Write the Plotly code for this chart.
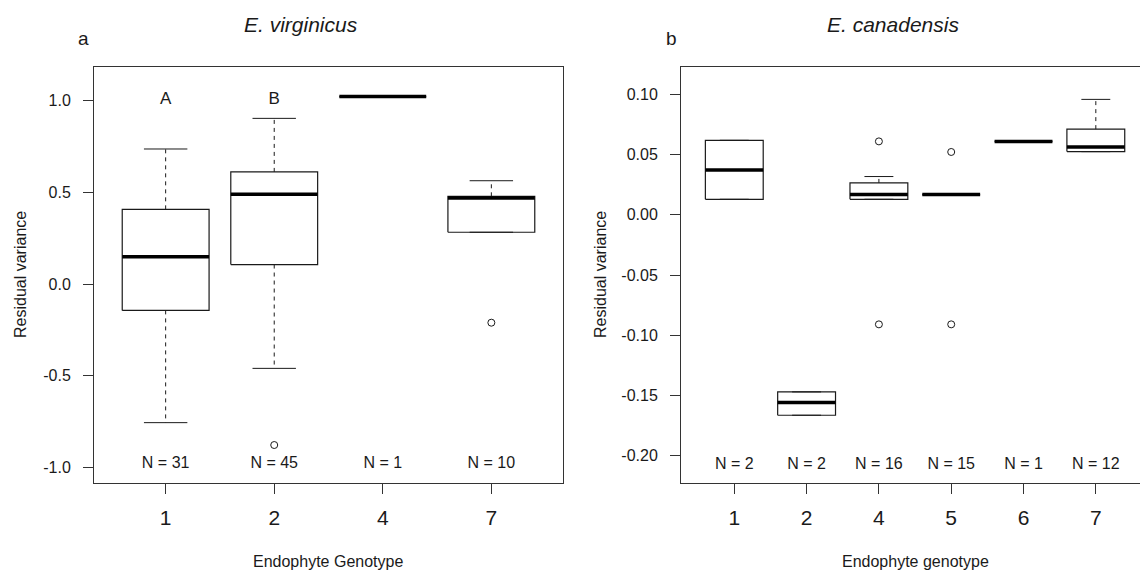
import plotly.graph_objects as go

# ---------------- data: panel a (E. virginicus) ----------------
a_genotypes = ["1", "2", "4", "7"]
a_n = [31, 45, 1, 10]
a_lower_whisker = [-0.755, -0.459, 1.023, 0.283]
a_q1 = [-0.143, 0.107, 1.023, 0.283]
a_median = [0.149, 0.490, 1.023, 0.470]
a_q3 = [0.408, 0.612, 1.023, 0.479]
a_upper_whisker = [0.737, 0.904, 1.023, 0.564]
a_outliers = [[], [-0.877], [], [-0.210]]
a_letters = ["A", "B", "", ""]

# ---------------- data: panel b (E. canadensis) ----------------
b_genotypes = ["1", "2", "4", "5", "6", "7"]
b_n = [2, 2, 16, 15, 1, 12]
b_lower_whisker = [0.0129, -0.1665, 0.0129, 0.0168, 0.0610, 0.0525]
b_q1 = [0.0129, -0.1665, 0.0129, 0.0168, 0.0610, 0.0525]
b_median = [0.0372, -0.1560, 0.0168, 0.0168, 0.0610, 0.0563]
b_q3 = [0.0619, -0.1471, 0.0265, 0.0168, 0.0610, 0.0712]
b_upper_whisker = [0.0619, -0.1471, 0.0318, 0.0168, 0.0610, 0.0959]
b_outliers = [[], [], [0.0610, -0.0910], [0.0522, -0.0910], [], []]

W, H = 1140, 572
FONT = "Liberation Sans, Arial, sans-serif"
INK = "#1a1a1a"
BOXW = 0.4   # half box width
CAPW = 0.2   # half staple width

fig = go.Figure()


def add_boxes(xref, yref, q1, med, q3, lw, uw, outs):
    pos = list(range(1, len(q1) + 1))
    bx, by, mx, my, wx, wy, cx, cy, ox, oy = [], [], [], [], [], [], [], [], [], []
    for p, a, m, b, lo, hi, ol in zip(pos, q1, med, q3, lw, uw, outs):
        bx += [p - BOXW, p + BOXW, p + BOXW, p - BOXW, p - BOXW, None]
        by += [a, a, b, b, a, None]
        mx += [p - BOXW, p + BOXW, None]
        my += [m, m, None]
        wx += [p, p, None, p, p, None]
        wy += [b, hi, None, a, lo, None]
        cx += [p - CAPW, p + CAPW, None, p - CAPW, p + CAPW, None]
        cy += [hi, hi, None, lo, lo, None]
        for o in ol:
            ox.append(p)
            oy.append(o)
    common = dict(xaxis=xref, yaxis=yref, showlegend=False, hoverinfo="skip")
    fig.add_trace(go.Scatter(x=wx, y=wy, mode="lines",
                             line=dict(color=INK, width=1, dash="4px,4px"), **common))
    fig.add_trace(go.Scatter(x=cx, y=cy, mode="lines",
                             line=dict(color=INK, width=1), **common))
    fig.add_trace(go.Scatter(x=bx, y=by, mode="lines",
                             line=dict(color=INK, width=1.2), **common))
    fig.add_trace(go.Scatter(x=mx, y=my, mode="lines",
                             line=dict(color="black", width=3.5), **common))
    fig.add_trace(go.Scatter(x=ox, y=oy, mode="markers",
                             marker=dict(symbol="circle-open", size=7, color=INK,
                                         line=dict(width=1)), **common))


add_boxes("x", "y", a_q1, a_median, a_q3, a_lower_whisker, a_upper_whisker, a_outliers)
add_boxes("x2", "y2", b_q1, b_median, b_q3, b_lower_whisker, b_upper_whisker, b_outliers)

# N labels and letters
fig.add_trace(go.Scatter(x=list(range(1, len(a_n) + 1)), y=[-0.982] * len(a_n),
                         text=[f"N = {n}" for n in a_n], mode="text",
                         textfont=dict(family=FONT, size=16, color=INK),
                         xaxis="x", yaxis="y", showlegend=False, hoverinfo="skip"))
fig.add_trace(go.Scatter(x=list(range(1, len(a_letters) + 1)), y=[1.005] * len(a_letters),
                         text=a_letters, mode="text",
                         textfont=dict(family=FONT, size=17, color=INK),
                         xaxis="x", yaxis="y", showlegend=False, hoverinfo="skip"))
fig.add_trace(go.Scatter(x=list(range(1, len(b_n) + 1)), y=[-0.2077] * len(b_n),
                         text=[f"N = {n}" for n in b_n], mode="text",
                         textfont=dict(family=FONT, size=16, color=INK),
                         xaxis="x2", yaxis="y2", showlegend=False, hoverinfo="skip"))


def px(x):
    return x / W


def py(y):
    return 1 - y / H


axis_common = dict(showgrid=False, zeroline=False, showline=True, linecolor="#333",
                   linewidth=1, ticks="outside", ticklen=10, tickcolor="#333",
                   tickwidth=1, fixedrange=True)

fig.update_layout(
    width=W, height=H,
    margin=dict(l=0, r=0, t=0, b=0),
    paper_bgcolor="white", plot_bgcolor="white",
    xaxis=dict(domain=[px(94), px(563)], range=[0.34, 4.66],
               tickvals=list(range(1, len(a_genotypes) + 1)), ticktext=a_genotypes,
               tickfont=dict(family=FONT, size=21, color=INK), mirror=True,
               ticklabelstandoff=6, anchor="y", **axis_common),
    yaxis=dict(domain=[py(483), py(67)], range=[-1.084, 1.184],
               tickvals=[-1.0, -0.5, 0.0, 0.5, 1.0],
               ticktext=["-1.0", "-0.5", "0.0", "0.5", "1.0"],
               tickfont=dict(family=FONT, size=16, color=INK), mirror=True,
               ticklabelstandoff=9, anchor="x", **axis_common),
    xaxis2=dict(domain=[px(681), 1.0], range=[0.263, 6.611],
                tickvals=list(range(1, len(b_genotypes) + 1)), ticktext=b_genotypes,
                tickfont=dict(family=FONT, size=21, color=INK), mirror=True,
                ticklabelstandoff=6, anchor="y2", **axis_common),
    yaxis2=dict(domain=[py(483), py(67)], range=[-0.2228, 0.1228],
                tickvals=[-0.20, -0.15, -0.10, -0.05, 0.0, 0.05, 0.10],
                ticktext=["-0.20", "-0.15", "-0.10", "-0.05", "0.00", "0.05", "0.10"],
                tickfont=dict(family=FONT, size=16, color=INK),
                ticklabelstandoff=9, anchor="x2", **axis_common),
)

ann = []


def add_text(text, x, y, size, angle=0, xanchor="center"):
    ann.append(dict(text=text, x=px(x), y=py(y), xref="paper", yref="paper",
                    showarrow=False, textangle=angle, xanchor=xanchor, yanchor="middle",
                    font=dict(family=FONT, size=size, color=INK)))


add_text("<i>E. virginicus</i>", 301, 24, 21)
add_text("a", 83, 39, 19)
add_text("<i>E. canadensis</i>", 893, 24, 21)
add_text("b", 672, 39, 19)
add_text("Endophyte Genotype", 328, 561, 16)
add_text("Endophyte genotype", 915, 561, 16)
add_text("Residual variance", 20, 275, 16, angle=-90)
add_text("Residual variance", 600, 275, 16, angle=-90)
fig.update_layout(annotations=ann)

fig.write_html("out.html")
